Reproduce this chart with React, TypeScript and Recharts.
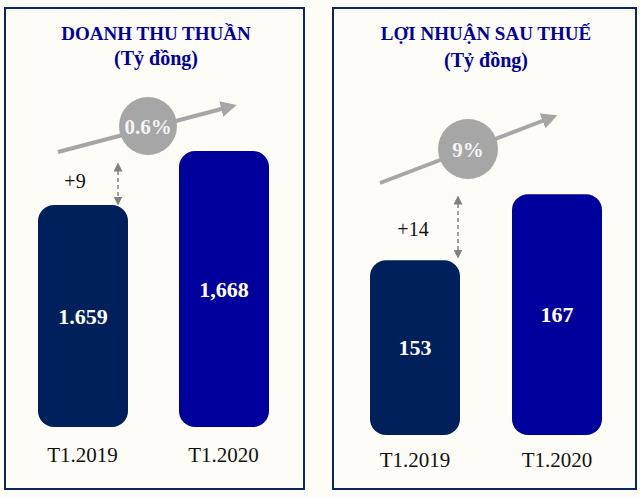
import { Bar, BarChart, Cell, LabelList, XAxis, YAxis } from "recharts";

const FONT = "'Liberation Serif', 'DejaVu Serif', serif";

const periods = ["T1.2019", "T1.2020"];
const revenue = [1659, 1668];
const revenueLabels = ["1.659", "1,668"];
const profit = [153, 167];
const profitLabels = ["153", "167"];
const barColors = ["#00205C", "#00009C"];

const revenueData = periods.map((p, i) => ({
  name: p,
  value: revenue[i],
  label: revenueLabels[i],
}));
const profitData = periods.map((p, i) => ({
  name: p,
  value: profit[i],
  label: profitLabels[i],
}));

interface PanelChartProps {
  data: { name: string; value: number; label: string }[];
  domain: [number, number];
  margin: { top: number; right: number; bottom: number; left: number };
  tickMargin: number;
}

const PanelChart: React.FC<PanelChartProps> = ({ data, domain, margin, tickMargin }) => (
  <BarChart width={320} height={498} data={data} margin={margin}>
    <XAxis
      dataKey="name"
      axisLine={false}
      tickLine={false}
      height={40}
      tickMargin={tickMargin}
      tick={{ fill: "#111", fontSize: 21, fontFamily: FONT }}
    />
    <YAxis type="number" domain={domain} hide />
    <Bar dataKey="value" barSize={90} radius={16} isAnimationActive={false}>
      {data.map((_, index) => (
        <Cell key={`cell-${index}`} fill={barColors[index % barColors.length]} />
      ))}
      <LabelList
        dataKey="label"
        position="center"
        fill="#fff"
        fontSize={22}
        fontWeight="bold"
        fontFamily={FONT}
      />
    </Bar>
  </BarChart>
);

const Panel: React.FC<{ left: number; width: number }> = ({ left, width }) => (
  <div
    style={{
      position: "absolute",
      left,
      top: 7,
      width,
      height: 483,
      boxSizing: "border-box",
      border: "2px solid #0E2462",
    }}
  />
);

const App = () => {
  const title = { fontFamily: FONT, fontWeight: "bold", fill: "#00009C", textAnchor: "middle" as const };
  return (
    <div
      style={{
        position: "absolute",
        left: 0,
        top: 0,
        width: 640,
        height: 498,
        background: "#FDFCF7",
        overflow: "hidden",
      }}
    >
      <Panel left={4} width={301} />
      <Panel left={332} width={305} />

      {/* revenue */}
      <div style={{ position: "absolute", left: 0, top: 0 }}>
        <PanelChart
          data={revenueData}
          domain={[1622, 1672]}
          margin={{ top: 127, right: 26, bottom: 31, left: 12 }}
          tickMargin={14}
        />
      </div>

      {/* profit */}
      <div style={{ position: "absolute", left: 320, top: 0 }}>
        <PanelChart
          data={profitData}
          domain={[116, 170]}
          margin={{ top: 180, right: 12, bottom: 23, left: 24 }}
          tickMargin={11}
        />
      </div>

      {/* titles, growth arrows and notes */}
      <svg
        width={640}
        height={498}
        style={{ position: "absolute", left: 0, top: 0, pointerEvents: "none" }}
      >
        <defs>
          <marker id="head" markerWidth="4" markerHeight="4" refX="2" refY="2" orient="auto">
            <path d="M0,0 L4,2 L0,4 z" fill="#A6A6A6" />
          </marker>
          <marker id="small" markerWidth="6" markerHeight="6" refX="5" refY="3" orient="auto-start-reverse">
            <path d="M0,0 L6,3 L0,6 z" fill="#808080" />
          </marker>
        </defs>

        <text x={156} y={40} fontSize={19} {...title}>DOANH THU THUẦN</text>
        <text x={156} y={65} fontSize={20} {...title}>(Tỷ đồng)</text>
        <text x={486} y={40} fontSize={19} {...title}>LỢI NHUẬN SAU THUẾ</text>
        <text x={486} y={67} fontSize={20} {...title}>(Tỷ đồng)</text>

        <line x1={58} y1={152} x2={229} y2={107} stroke="#A6A6A6" strokeWidth={4} markerEnd="url(#head)" />
        <circle cx={148} cy={126} r={29} fill="#A6A6A6" />
        <text x={148} y={134} fontSize={21} fontWeight="bold" fill="#F5F5F5" textAnchor="middle" fontFamily={FONT}>0.6%</text>

        <line x1={380} y1={183} x2={550} y2={118} stroke="#A6A6A6" strokeWidth={4} markerEnd="url(#head)" />
        <circle cx={468} cy={149} r={30} fill="#A6A6A6" />
        <text x={468} y={157} fontSize={21} fontWeight="bold" fill="#F5F5F5" textAnchor="middle" fontFamily={FONT}>9%</text>

        <line x1={118} y1={164} x2={118} y2={204} stroke="#808080" strokeWidth={1.5} strokeDasharray="4 3" markerStart="url(#small)" markerEnd="url(#small)" />
        <text x={75} y={188} fontSize={20} fill="#111" textAnchor="middle" fontFamily={FONT}>+9</text>

        <line x1={458} y1={197} x2={458} y2={257} stroke="#808080" strokeWidth={1.5} strokeDasharray="4 3" markerStart="url(#small)" markerEnd="url(#small)" />
        <text x={413} y={236} fontSize={20} fill="#111" textAnchor="middle" fontFamily={FONT}>+14</text>
      </svg>
    </div>
  );
};

export default App;
